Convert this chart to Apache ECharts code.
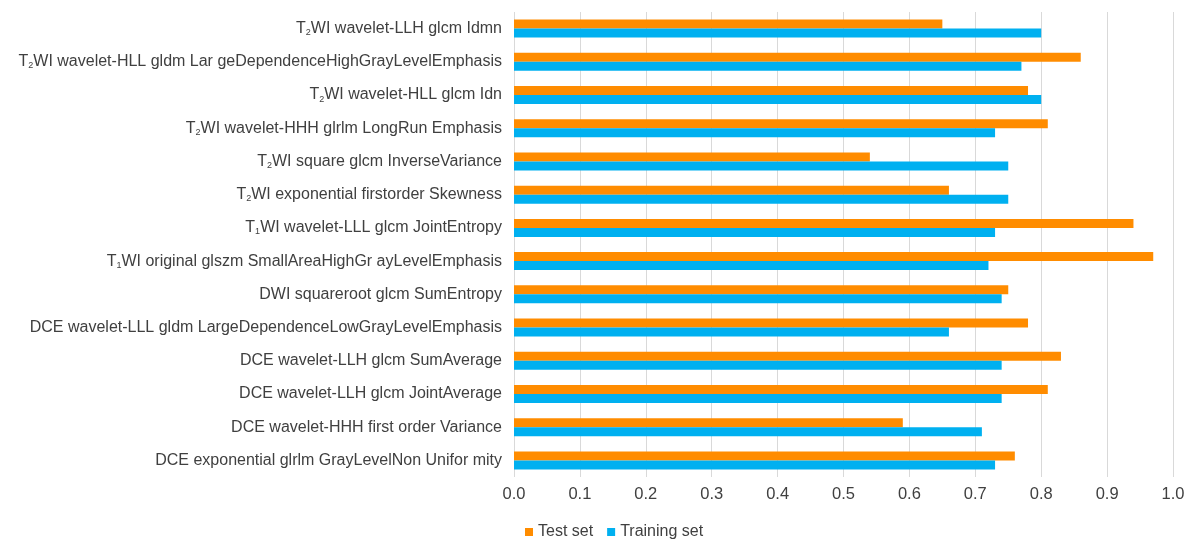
<!DOCTYPE html>
<html>
<head>
<meta charset="utf-8">
<script src="https://cdn.jsdelivr.net/npm/echarts@6/dist/echarts.min.js"></script>
<style>
  html, body { margin: 0; padding: 0; background: #fff; }
  #chart { width: 1190px; height: 540px; }
</style>
</head>
<body>
<div id="chart"></div>
<script>
// Feature names (top to bottom); {s|n} marks a subscript digit
const categories = [
  'T{s|2}WI wavelet-LLH glcm Idmn',
  'T{s|2}WI wavelet-HLL gldm Lar geDependenceHighGrayLevelEmphasis',
  'T{s|2}WI wavelet-HLL glcm Idn',
  'T{s|2}WI wavelet-HHH glrlm LongRun Emphasis',
  'T{s|2}WI square glcm InverseVariance',
  'T{s|2}WI exponential firstorder Skewness',
  'T{s|1}WI wavelet-LLL glcm JointEntropy',
  'T{s|1}WI original glszm SmallAreaHighGr ayLevelEmphasis',
  'DWI squareroot glcm SumEntropy',
  'DCE wavelet-LLL gldm LargeDependenceLowGrayLevelEmphasis',
  'DCE wavelet-LLH glcm SumAverage',
  'DCE wavelet-LLH glcm JointAverage',
  'DCE wavelet-HHH first order Variance',
  'DCE exponential glrlm GrayLevelNon Unifor mity'
];
const testSet = [0.65, 0.86, 0.78, 0.81, 0.54, 0.66, 0.94, 0.97, 0.75, 0.78, 0.83, 0.81, 0.59, 0.76];
const trainingSet = [0.80, 0.77, 0.80, 0.73, 0.75, 0.75, 0.73, 0.72, 0.74, 0.66, 0.74, 0.74, 0.71, 0.73];
const seriesNames = ['Test set', 'Training set'];

const textColor = '#404040';
const font = '"Liberation Sans", Arial, Helvetica, sans-serif';

const chart = echarts.init(document.getElementById('chart'), null, { renderer: 'canvas' });
chart.setOption({
  animation: false,
  textStyle: { fontFamily: font },
  grid: { left: 514, right: 17, top: 12, bottom: 63 },
  legend: {
    data: seriesNames,
    top: 519,
    left: 520,
    icon: 'rect',
    itemWidth: 8,
    itemHeight: 8,
    itemGap: 14,
    textStyle: { fontSize: 16, color: textColor, fontFamily: font }
  },
  xAxis: {
    type: 'value',
    min: 0,
    max: 1,
    interval: 0.1,
    axisLine: { show: false },
    axisTick: { show: false },
    splitLine: { show: true, lineStyle: { color: '#d9d9d9', width: 1 } },
    axisLabel: {
      fontSize: 16.5,
      color: textColor,
      margin: 9,
      formatter: v => v.toFixed(1)
    }
  },
  yAxis: {
    type: 'category',
    inverse: true,
    data: categories,
    axisLine: { show: false },
    axisTick: { show: false },
    axisLabel: {
      margin: 12,
      fontSize: 16,
      color: textColor,
      rich: {
        s: { fontSize: 9, color: textColor, verticalAlign: 'bottom', padding: [8, 0, 0, 0] }
      }
    }
  },
  series: [
    {
      name: seriesNames[0],
      type: 'bar',
      data: testSet,
      barWidth: 9,
      barGap: '0%',
      itemStyle: { color: '#FF8C00' }
    },
    {
      name: seriesNames[1],
      type: 'bar',
      data: trainingSet,
      barWidth: 9,
      barGap: '0%',
      itemStyle: { color: '#00B0F0' }
    }
  ]
});
</script>
</body>
</html>
